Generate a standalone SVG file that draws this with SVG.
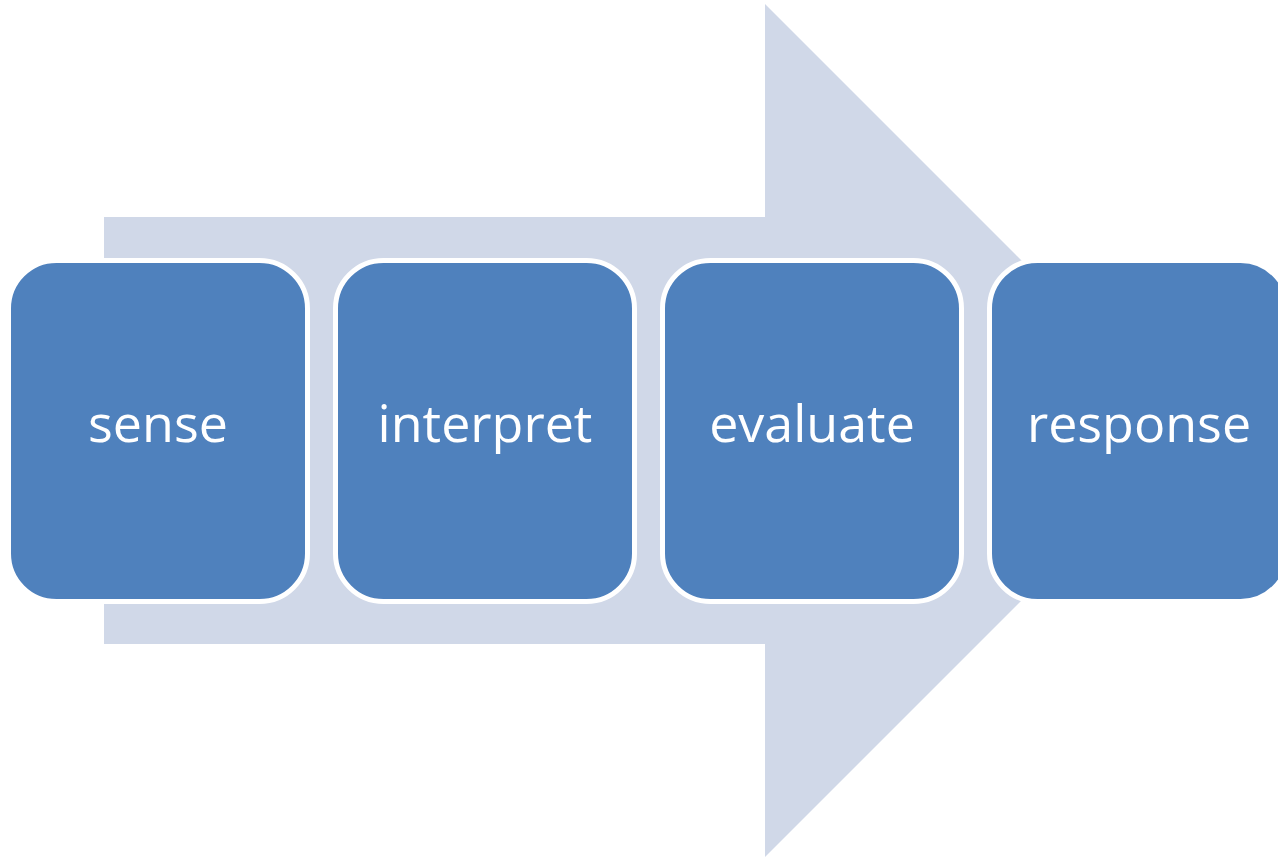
<svg xmlns="http://www.w3.org/2000/svg" width="1278" height="857" viewBox="0 0 1278 857">
<style>
.box{fill:#4F81BD;stroke:#FFFFFF;stroke-width:5}
.lbl{font-family:"Open Sans","Noto Sans","Liberation Sans",sans-serif;font-size:52px;fill:#FFFFFF;text-anchor:middle}
</style>
<rect width="1278" height="857" fill="#FFFFFF"/>
<g id="arrow">
<polygon points="104,217 765,217 765,4 1191.5,430.5 765,857 765,644 104,644" fill="#D0D8E8"/>
</g>
<g id="connectors"></g>
<g id="sense">
<rect class="box" x="8.5" y="260.5" width="299" height="341" rx="48" ry="48"/>
<text class="lbl" x="158" y="442">sense</text>
</g>
<g id="interpret">
<rect class="box" x="335.5" y="260.5" width="299" height="341" rx="48" ry="48"/>
<text class="lbl" x="485" y="442">interpret</text>
</g>
<g id="evaluate">
<rect class="box" x="662.5" y="260.5" width="299" height="341" rx="48" ry="48"/>
<text class="lbl" x="812" y="442">evaluate</text>
</g>
<g id="response">
<rect class="box" x="989.5" y="260.5" width="299" height="341" rx="48" ry="48"/>
<text class="lbl" x="1139" y="442">response</text>
</g>
</svg>
